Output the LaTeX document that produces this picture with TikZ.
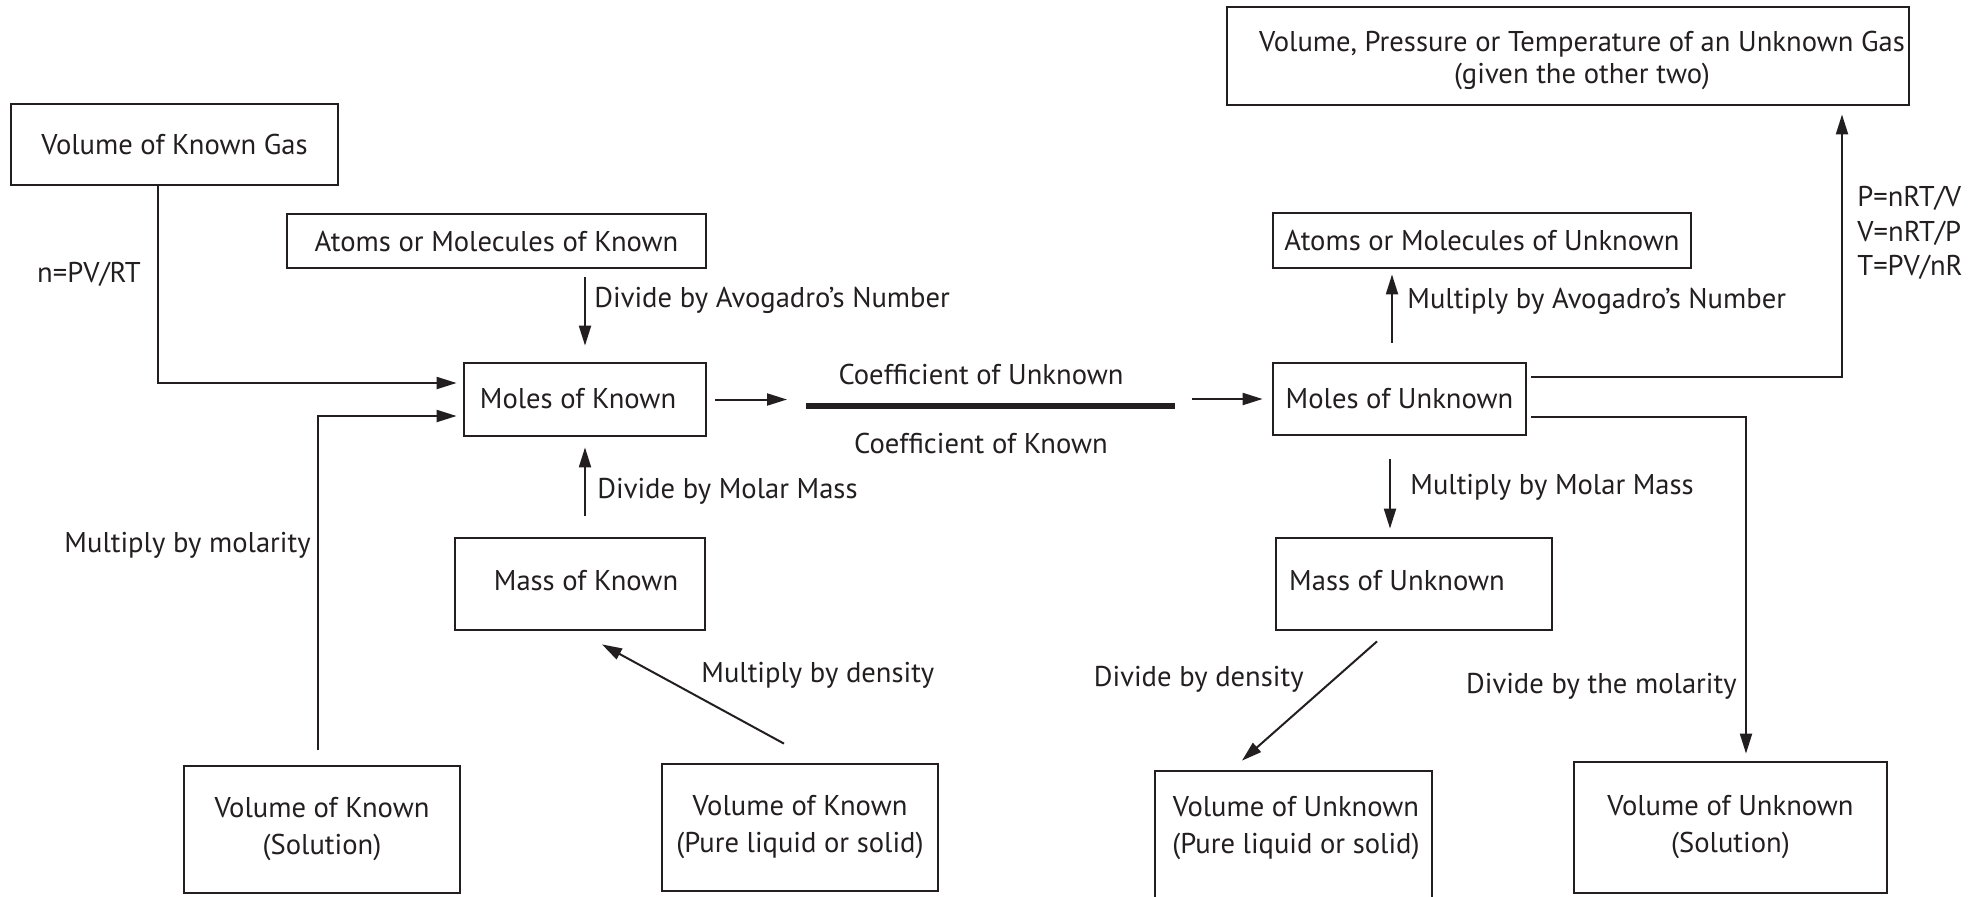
\documentclass[tikz,border=0pt]{standalone}
\usepackage{fontspec}
\setmainfont{PT Sans}
\usetikzlibrary{arrows.meta,calc}
\definecolor{ink}{RGB}{35,31,32}
\begin{document}
\begin{tikzpicture}[x=0.5pt,y=-0.5pt,
  box/.style={draw=ink, line width=1.4pt, rectangle, inner sep=0pt, text=ink,
              font=\fontsize{14.3}{18.5}\selectfont, align=center},
  txt/.style={text=ink, inner sep=0pt, font=\fontsize{14.3}{18.5}\selectfont, align=center},
  lbl/.style={text=ink, inner sep=0pt, font=\fontsize{14.3}{18.5}\selectfont},
  arr/.style={draw=ink, line width=1pt, -{Triangle[length=10pt,width=6pt]}}]
\useasboundingbox (0,0) rectangle (1982,896);
\fill[white] (0,0) rectangle (1982,896);

% ---------- boxes ----------
\node[box, minimum width=163.5pt, minimum height=40.5pt] (gas) at (174.5,144.5) {Volume of Known Gas};
\node[box, minimum width=209.5pt, minimum height=27pt] (atomsK) at (496.5,241) {Atoms or Molecules of Known};
\node[box, minimum width=121pt, minimum height=36.5pt] (molesK) at (585,399.5) {};
\node[txt] (molesKt) at (578,399) {Moles of Known};
\node[box, minimum width=125pt, minimum height=46pt] (massK) at (580,584) {};
\node[txt] (massKt) at (586,581) {Mass of Known};
\node[box, minimum width=138pt, minimum height=63.5pt] (volKSol) at (322,829.5) {Volume of Known\\(Solution)};
\node[box, minimum width=138pt, minimum height=63.5pt] (volKPure) at (800,827.5) {Volume of Known\\(Pure liquid or solid)};

\node[box, minimum width=341pt, minimum height=49pt] (vpt) at (1568,56) {};
\node[txt, font=\fontsize{14.3}{16}\selectfont] (vptt) at (1582,60) {Volume, Pressure or Temperature of an Unknown Gas\\(given the other two)};
\node[box, minimum width=209pt, minimum height=27.5pt] (atomsU) at (1482,240.5) {Atoms or Molecules of Unknown};
\node[box, minimum width=126.5pt, minimum height=36pt] (molesU) at (1399.5,399) {Moles of Unknown};
\node[box, minimum width=138pt, minimum height=46pt] (massU) at (1414,584) {};
\node[txt] (massUt) at (1397,581) {Mass of Unknown};
\node[box, minimum width=138.5pt, minimum height=69.5pt] (volUPure) at (1293.5,840.5) {};
\node[txt] (volUPuret) at (1296,828) {Volume of Unknown\\(Pure liquid or solid)};
\node[box, minimum width=156.5pt, minimum height=65.5pt] (volUSol) at (1730.5,827.5) {Volume of Unknown\\(Solution)};

% ---------- fraction bar ----------
\coordinate (barL) at (806,406);
\coordinate (barR) at (1175,406);
\draw[ink, line width=2.8pt] (barL) -- (barR);
\node[lbl] (coefU) at (981,374) {Coefficient of Unknown};
\node[lbl] (coefK) at (981,443) {Coefficient of Known};

% ---------- connectors (known side) ----------
\draw[arr, shorten >=3pt] ([xshift=-8.25pt]gas.south) |- ([yshift=8.25pt]molesK.west);
\draw[arr, shorten <=7.5pt, shorten >=3pt] ([xshift=-2pt]volKSol.north) |- ([yshift=-8.25pt]molesK.west);
\draw[arr, shorten <=4pt, shorten >=8pt] (atomsK.south -| molesK.north) -- (molesK.north);
\draw[arr, shorten <=10.5pt, shorten >=5pt] (massK.north -| molesK.south) -- (molesK.south);
\draw[arr] ([xshift=-8pt,yshift=9.5pt]volKPure.north) -- ([xshift=11pt,yshift=-6.5pt]massK.south);
\draw[arr, shorten <=4pt, shorten >=9.5pt] (molesK.east) -- (molesK.east -| barL);
\draw[arr, shorten <=8.5pt, shorten >=4.5pt] (molesU.west -| barR) -- (molesU.west);

% ---------- connectors (unknown side) ----------
\draw[arr, shorten <=9.5pt, shorten >=2.5pt] ([xshift=-3.75pt]molesU.north) -- ([xshift=-3.75pt]molesU.north |- atomsU.south);
\draw[arr, shorten <=11.5pt, shorten >=4pt] ([xshift=-4.75pt]molesU.south) -- ([xshift=-4.75pt]molesU.south |- massU.north);
\draw[arr] ([xshift=-18.5pt,yshift=-5pt]massU.south) -- ([xshift=-25.75pt,yshift=4.5pt]volUPure.north);
\draw[arr, shorten <=2pt, shorten >=3.5pt] ([yshift=-9pt]molesU.east) -| ([xshift=7.75pt]volUSol.north);
\draw[arr, shorten <=2pt, shorten >=4pt] ([yshift=11pt]molesU.east) -| ([xshift=137pt]vpt.south);

% ---------- labels ----------
\node[lbl, anchor=mid] (lgas) at (89,277) {n=PV/RT};
\node[lbl, anchor=mid west] (lavoK) at (594,302) {Divide by Avogadro’s Number};
\node[lbl, anchor=mid west] (lmmK) at (597,493) {Divide by Molar Mass};
\node[lbl, anchor=mid west] (ldenK) at (701,677) {Multiply by density};
\node[lbl, anchor=mid east] (lmolK) at (311,547) {Multiply by molarity};
\node[lbl, anchor=mid west] (lavoU) at (1407,303) {Multiply by Avogadro’s Number};
\node[lbl, anchor=mid west] (lmmU) at (1410,489) {Multiply by Molar Mass};
\node[lbl, anchor=mid east] (ldenU) at (1304,681) {Divide by density};
\node[lbl, anchor=mid east] (lmolU) at (1737,688) {Divide by the molarity};
\node[txt, align=left, anchor=west, font=\fontsize{14.3}{17.25}\selectfont] (lvpt) at (1857,233) {P=nRT/V\\V=nRT/P\\T=PV/nR};
\end{tikzpicture}
\end{document}
